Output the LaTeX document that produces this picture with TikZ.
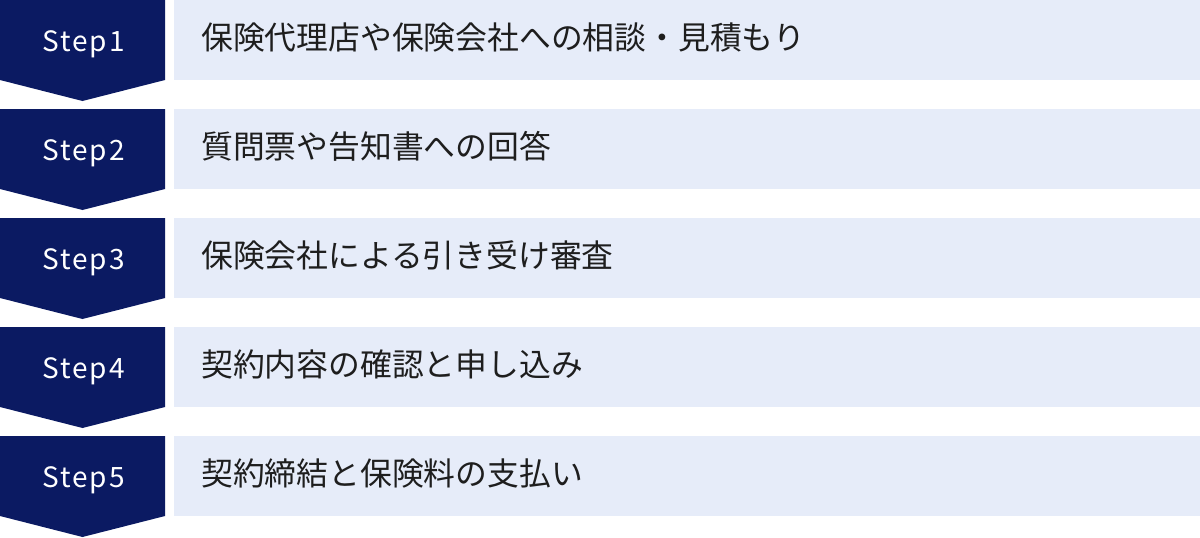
\documentclass[tikz,border=0pt]{standalone}
\usepackage{fontspec}
\setmainfont{Noto Sans CJK JP}
\newfontfamily\stepfont[LetterSpace=7]{Noto Sans CJK JP}
\definecolor{navy}{HTML}{0B1A62}
\definecolor{paleblue}{HTML}{E6ECF9}
\definecolor{txt}{HTML}{1E1E1E}
\tikzset{
  stepshape/.style={fill=navy},
  barshape/.style={fill=paleblue},
  steplabel/.style={anchor=base, text=white, inner sep=0pt, font=\stepfont\fontsize{28}{28}\selectfont},
  bartext/.style={anchor=base west, text=txt, inner sep=0pt, font=\fontsize{31.8}{31.8}\selectfont}
}
\begin{document}
\begin{tikzpicture}[x=1pt,y=-1pt]
\useasboundingbox (0,0) rectangle (1200,538);
\foreach \i/\t in {0/保険代理店や保険会社への相談・見積もり,1/質問票や告知書への回答,2/保険会社による引き受け審査,3/契約内容の確認と申し込み,4/契約締結と保険料の支払い}{
  \pgfmathsetmacro\top{109*\i}
  \pgfmathtruncatemacro\n{\i+1}
  \fill[stepshape] (0,\top) -- (165,\top) -- (165,\top+80) -- (82.5,\top+101) -- (0,\top+80) -- cycle;
  \fill[barshape] (174,\top) rectangle (1200,\top+80);
  \node[steplabel] (step\n) at (83.5,\top+51.5) {Step\n};
  \node[bartext] (text\n) at (201,\top+49.5) {\t};
}
\end{tikzpicture}
\end{document}
